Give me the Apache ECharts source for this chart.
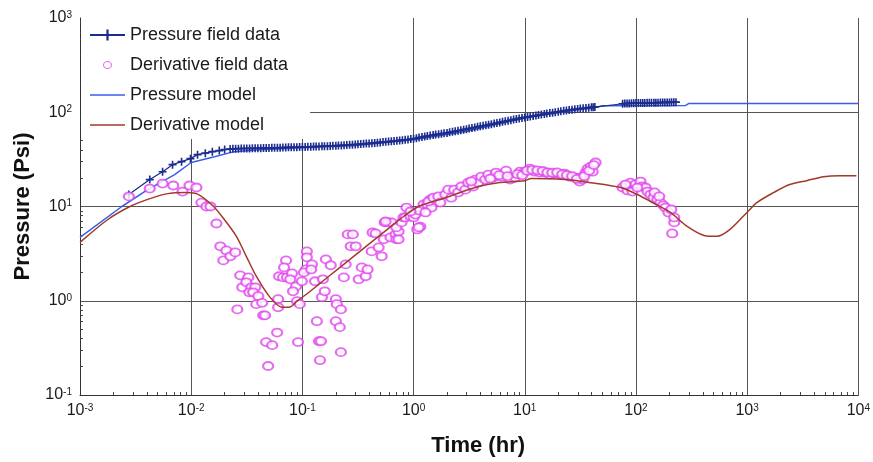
<!DOCTYPE html>
<html><head><meta charset="utf-8">
<script src="https://cdn.jsdelivr.net/npm/echarts@6/dist/echarts.min.js"></script>
<style>html,body{margin:0;padding:0;background:#fff}#c{width:873px;height:462px}</style>
</head><body><div id="c"></div>
<script>
// ---- Data ----
const xTicks = [0.001, 0.01, 0.1, 1, 10, 100, 1000, 10000];
const yTicks = [0.1, 1, 10, 100, 1000];

const pressureDataT = [0.00275,0.00424,0.00553,0.0068,0.00819,0.00985,0.0114,0.0134,0.0155,0.0179,0.0200,
 0.0224,0.0251,0.0282,0.0316,0.0355,0.0398,0.0447,0.0501,0.0562,0.0631,0.0708,0.0794,0.0891,0.1,0.112,0.126,0.141,0.158,0.178,0.2,
 0.224,0.251,0.282,0.316,0.355,0.398,0.447,0.501,0.562,0.631,0.708,0.794,0.891,1.0,1.12,1.26,1.41,1.58,1.78,2.0,
 2.24,2.51,2.82,3.16,3.55,3.98,4.47,5.01,5.62,6.31,7.08,7.94,8.91,10,11.2,12.6,14.1,15.8,17.8,20,
 22.4,25.1,28.2,31.6,35.5,39.8,42.7,
 75.9,83.2,91.2,100,110,120,132,145,158,174,191,209,229];
const pressureDataP = [13.4,19.3,23.4,27.8,29.9,32.2,35.5,36.8,38.2,39.2,40.2,
 40.8,41.0,41.2,41.3,41.4,41.5,41.7,41.8,42.0,42.1,42.3,42.4,42.6,42.8,43.0,43.2,43.4,43.6,43.9,44.2,
 44.5,44.9,45.3,45.7,46.2,46.7,47.3,47.9,48.5,49.2,49.9,50.6,51.4,52.3,53.8,55.2,56.6,57.9,59.2,60.4,
 62.0,63.7,65.4,67.1,69.0,70.9,72.8,74.8,77.0,79.1,81.3,83.6,86.0,88.2,90.3,92.5,94.7,96.9,99.0,101,
 103.5,105.5,107.5,109.3,111,112.7,113.5,
 123,124,124.5,125,125,125.5,126,126,126.5,127,127,127.5,128];
// further readings of the dense field-data band
const pressureDataT2 = [0.0237,0.0266,0.0299,0.0335,0.0376,0.0422,0.0473,0.0531,0.0596,0.0668,0.075,0.0841,0.0944,0.106,0.119,0.133,
 0.15,0.168,0.188,0.211,0.237,0.266,0.299,0.335,0.376,0.422,0.473,0.531,0.596,0.668,0.75,0.841,0.944,1.06,1.19,1.33,1.5,1.68,1.88,
 2.11,2.37,2.66,2.99,3.35,3.76,4.22,4.73,5.31,5.96,6.68,7.5,8.41,9.44,10.6,11.9,13.3,15.0,16.8,18.8,21.1,23.7,26.6,29.9,33.5,37.6,41.2,
 79.4,87.1,95.5,105,115,126,138,151,166,182,200,219];
const pressureDataP2 = [40.9,41.1,41.3,41.3,41.5,41.6,41.8,41.9,42.0,42.2,42.4,42.5,42.7,42.9,43.1,43.3,
 43.5,43.7,44.1,44.3,44.7,45.1,45.5,45.9,46.5,47.0,47.6,48.2,48.8,49.5,50.3,51.0,51.9,53.0,54.5,55.9,57.2,58.6,59.8,
 61.2,62.9,64.5,66.2,68.0,70.0,71.8,73.8,75.9,78.0,80.2,82.4,84.8,87.1,89.2,91.4,93.6,95.8,97.9,100,102.3,104.5,106.5,108.4,110.1,111.9,113.1,
 123.5,124.2,124.8,125,125.2,125.8,126,126.3,126.8,127,127.2,127.8];

const derivDataT = [0.00275,0.00424,0.00553,0.0069,0.00836,0.00966,0.01114,0.01236,0.0137,0.0149,0.01687,0.01828,0.0207,0.01945,0.0225,0.0249,
 0.0276,0.0326,0.0288,0.0313,0.0347,0.0377,0.0333,0.0361,0.0401,0.026,0.0385,0.0435,0.0444,0.0462,0.0593,0.0472,0.0535,0.0492,
 0.0605,0.0605,0.0713,0.0684,0.0618,0.067,0.0727,0.0807,0.0778,0.0877,0.0824,0.0895,0.0948,0.0914,0.099,0.1076,0.1097,0.1097,
 0.1033,0.122,0.12,0.13,0.135,0.141,0.147,0.144,0.15,0.159,0.153,0.1626,0.18,0.2,0.204,0.222,0.2,0.217,0.222,0.236,0.245,
 0.272,0.256,0.284,0.302,0.321,0.342,0.371,0.386,0.428,0.456,0.42,0.485,0.517,0.55,0.54,0.596,0.634,0.62,0.689,0.7,0.733,0.7,
 0.78,0.813,0.863,0.845,0.938,1.0,1.08,1.15,1.04,1.13,1.23,1.33,1.42,1.54,1.45,1.28,0.56,0.733,0.938,1.11,1.36,1.51,1.67,1.74,
 1.93,2.05,2.18,2.32,2.52,2.69,2.92,3.1,3.43,3.58,3.81,4.06,4.41,4.69,5.19,5.52,6.12,6.79,7.38,8.17,9.05,10,11.1,12.3,13.7,15.2,
 16.8,18.6,20.7,22.9,25.4,28.1,31.2,33.2,35.3,36.8,39.2,40.8,43.4,31.8,
 3.3,4.9,5.9,7.0,8.6,9.5,10.5,11.7,13.0,14.5,16.0,17.7,19.6,21.8,24.0,26.7,29.5,34.3,38.0,41.8,
 75.7,84,89,99,110,114,122,127,135,144,156,166,176,184,196,221,221,212,80.5,93,103,147,162,208];
const derivDataP = [12.8,15.5,17.5,16.7,14.4,16.7,15.9,11.0,10.0,10.0,6.6,3.78,3.42,2.68,2.96,3.26,
 1.86,1.77,1.39,1.57,1.39,1.39,1.23,1.23,1.12,0.81,0.92,0.95,0.70,0.70,0.46,0.364,0.338,0.203,
 1.04,0.853,2.68,2.26,1.82,1.77,1.77,1.95,1.69,1.42,1.26,0.99,0.92,0.364,1.61,2.15,3.34,2.89,
 2.0,2.43,2.15,1.61,0.607,0.372,0.372,0.234,1.09,1.26,1.69,2.75,2.38,1.04,0.92,0.81,0.607,0.525,0.285,1.77,2.43,
 3.78,5.06,5.06,3.78,1.69,2.26,1.82,2.15,5.3,5.18,3.34,3.68,2.96,6.78,4.48,6.78,6.78,4.7,5.06,4.48,5.43,6.0,
 6.78,7.65,9.75,7.65,7.83,7.65,5.71,6.1,8.22,9.07,10.5,10.5,11.9,11.3,9.75,8.65,6.93,4.48,8.85,6.0,11.3,12.4,12.8,11.0,
 13.4,15.1,12.4,15.1,14.1,16.3,15.1,17.9,16.3,19.3,17.9,20.7,19.3,21.8,20.3,22.9,20.7,24.0,19.3,20.3,23.4,23.4,25.2,23.4,22.9,22.9,
 21.8,22.3,21.8,22.3,20.7,20.3,18.4,19.3,22.9,25.2,26.5,23.4,29.3,20.3,
 18.5,19.8,21.5,21.0,22.0,21.5,24.0,24.5,24.2,23.8,23.0,22.8,23.0,21.9,21.5,21.0,19.6,21.0,24.0,27.5,
 15.9,14.8,17.9,17.2,18.4,16.3,15.9,14.4,13.4,12.4,11.9,11.0,10.3,9.75,8.65,6.78,7.65,5.18,17.1,14.4,15.9,14.1,12.8,9.3];

const pressureModelT = [0.001,0.00238,0.00406,0.0071,0.01,0.0162,0.0244,0.0408,0.1,0.3,1,3,10,30,40,50,280,300,10000];
const pressureModelP = [4.7,10,15.1,21.8,29.3,33.8,38.2,40.1,42,44.5,51,63,87,106,110,117,118,124,124];

const derivModelT = [0.001,0.00178,0.00281,0.00406,0.00614,0.0087,0.01114,0.0155,0.01986,0.0255,0.0313,0.0385,0.0502,0.0656,0.0759,
 0.0895,0.1146,0.173,0.261,0.394,0.596,0.812,1.107,1.93,3.81,5.75,10.0,11.4,22.9,39.2,72.6,103,135,204,289,410,537,702,996,1224,
 1738,2415,3428,4875,6776,9610];
const derivModelP = [4.16,7.28,10,11.9,13.7,14.1,13.7,10.3,7.28,4.82,2.96,1.82,1.12,0.853,0.853,
 0.99,1.23,1.82,2.68,3.96,5.85,7.83,10,12.4,16.3,17.9,18.8,19.8,19.3,17.9,15.9,13.4,11.3,8.65,6.14,4.93,4.82,5.71,8.65,11.0,
 14.1,17.1,18.8,20.7,21.2,21.2];

// minor tick positions (2..9 within each decade)
function minors(lo, hi){ const out=[]; for(let e=lo;e<hi;e++){ for(let k=2;k<=9;k++){ out.push(k*Math.pow(10,e)); } } return out; }
const xMinor = minors(-3, 4);
const yMinor = minors(-1, 3);

const zip = (a,b) => a.map((v,i)=>[v,b[i]]);
const pressureData = zip(pressureDataT, pressureDataP).concat(zip(pressureDataT2, pressureDataP2)).sort((a,b)=>a[0]-b[0]);
const FONT = 'Liberation Sans, Arial, sans-serif';
const fmt = v => { const e = Math.round(Math.log10(v)); return '{b|10}{s|' + e + '}'; };
const rich = { b:{fontSize:16, fontFamily:FONT, color:'#1a1a1a'}, s:{fontSize:10, fontFamily:FONT, color:'#1a1a1a', verticalAlign:'top'} };

const LINE_ICON = 'path://M0,0 L100,0 L100,4 L0,4 Z';
const RING_ICON = 'path://M0,0 L0.01,0 L0,0.01 Z M35,14 L34.99,14 L35,13.99 Z ' +
  'M13,7 A4.5,4 0 1,1 22,7 A4.5,4 0 1,1 13,7 L14.1,7 A3.4,2.9 0 1,0 20.9,7 A3.4,2.9 0 1,0 14.1,7 Z';

const chart = echarts.init(document.getElementById('c'), null, {renderer:'canvas'});
chart.setOption({
  animation:false,
  backgroundColor:'#fff',
  grid: {left:80, right:11, top:18, bottom:66},
  legend: {
    orient:'vertical', left:81, top:15, itemWidth:35, itemHeight:14, itemGap:12,
    padding:[11,22,5,8], backgroundColor:'#fff', z:5,
    textStyle:{fontSize:18, fontFamily:FONT, color:'#1a1a1a'},
    data:[
      {name:'Pressure field data'},
      {name:'Derivative field data', icon:RING_ICON, itemStyle:{color:'#e046ee', borderWidth:0}},
      {name:'Pressure model', icon:LINE_ICON},
      {name:'Derivative model', icon:LINE_ICON}
    ]
  },
  xAxis: [{
    type:'log', logBase:10, min:0.001, max:10000, splitNumber:7,
    axisLine:{show:true, lineStyle:{color:'#333', width:1}},
    axisTick:{show:false},
    axisLabel:{formatter:fmt, rich:rich, margin:8, showMinLabel:true, showMaxLabel:true},
    splitLine:{show:true, lineStyle:{color:'#555', width:1}},
    name:'Time (hr)', nameLocation:'middle', nameGap:40,
    nameTextStyle:{fontSize:22, fontWeight:'bold', fontFamily:FONT, color:'#111', padding:[0,0,0,18]}
  },{
    type:'log', logBase:10, min:0.001, max:10000, position:'bottom',
    axisLine:{show:false}, axisLabel:{show:false}, splitLine:{show:false},
    axisTick:{show:true, inside:true, length:3, customValues:xMinor, lineStyle:{color:'#444'}}
  }],
  yAxis: [{
    type:'log', logBase:10, min:0.1, max:1000, splitNumber:4,
    axisLine:{show:true, lineStyle:{color:'#333', width:1}},
    axisTick:{show:false},
    axisLabel:{formatter:fmt, rich:rich, margin:8, showMinLabel:true, showMaxLabel:true},
    splitLine:{show:true, showMaxLine:false, lineStyle:{color:'#555', width:1}},
    name:'Pressure (Psi)', nameLocation:'middle', nameGap:46,
    nameTextStyle:{fontSize:22, fontWeight:'bold', fontFamily:FONT, color:'#111'}
  },{
    type:'log', logBase:10, min:0.1, max:1000, position:'left',
    axisLine:{show:false}, axisLabel:{show:false}, splitLine:{show:false},
    axisTick:{show:true, inside:true, length:3, customValues:yMinor, lineStyle:{color:'#444'}}
  }],
  series: [
    { name:'Pressure model', type:'line', data:zip(pressureModelT, pressureModelP), showSymbol:false, symbol:'none',
      lineStyle:{color:'#3a5ee6', width:1.5}, itemStyle:{color:'#3a5ee6'}, z:2 },
    { name:'Derivative model', type:'line', data:zip(derivModelT, derivModelP), showSymbol:false, symbol:'none', smooth:0.3,
      lineStyle:{color:'#a03a2a', width:1.5}, itemStyle:{color:'#a03a2a'}, z:4 },
    { name:'Pressure field data', type:'line', data:pressureData,
      symbol:'path://M4,0 L6,0 L6,4 L10,4 L10,6 L6,6 L6,10 L4,10 L4,6 L0,6 L0,4 L4,4 Z', symbolSize:8, showAllSymbol:true,
      lineStyle:{color:'#1c2c8c', width:1.2}, itemStyle:{color:'#1c2c8c'}, z:3 },
    { name:'Derivative field data', type:'scatter', data:zip(derivDataT, derivDataP),
      symbol:'emptyCircle', symbolSize:[10,8],
      itemStyle:{color:'#e046ee', borderColor:'#e046ee', borderWidth:1.2}, z:3 }
  ]
});
</script></body></html>
